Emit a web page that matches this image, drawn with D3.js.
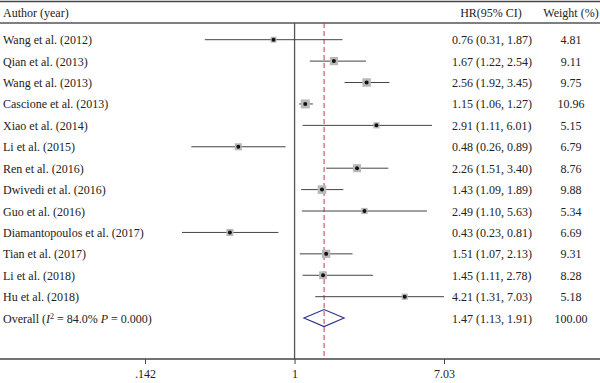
<!DOCTYPE html>
<html><head><meta charset="utf-8">
<script src="https://cdn.jsdelivr.net/npm/d3@7"></script>
<style>body{margin:0;background:#fff}svg{display:block}text{font-family:"Liberation Serif","Times New Roman",serif;fill:#222}</style>
</head><body><svg id="c" width="600" height="383"></svg>
<script>
const studies = ["Wang et al. (2012)","Qian et al. (2013)","Wang et al. (2013)","Cascione et al. (2013)","Xiao et al. (2014)","Li et al. (2015)","Ren et al. (2016)","Dwivedi et al. (2016)","Guo et al. (2016)","Diamantopoulos et al. (2017)","Tian et al. (2017)","Li et al. (2018)","Hu et al. (2018)"];
const hr = [0.76,1.67,2.56,1.15,2.91,0.48,2.26,1.43,2.49,0.43,1.51,1.45,4.21];
const lower = [0.31,1.22,1.92,1.06,1.11,0.26,1.51,1.09,1.10,0.23,1.07,1.11,1.31];
const upper = [1.87,2.54,3.45,1.27,6.01,0.89,3.40,1.89,5.63,0.81,2.13,2.78,7.03];
const weights = [4.81,9.11,9.75,10.96,5.15,6.79,8.76,9.88,5.34,6.69,9.31,8.28,5.18];
const overall = {hr:1.47, lower:1.13, upper:1.91, weight:100.00};
const tickValues = [0.142, 1, 7.03];
const tickLabels = [".142","1","7.03"];

const svg = d3.select("#c");
const x = d3.scaleLog().domain([0.142, 7.03]).range([145, 444]);
const y = d3.scaleLinear().domain([0, 13]).range([39.7, 318.1]);
const size = d3.scaleSqrt().domain([0, 10.96]).range([0, 9]);
const fmt = d3.format(".2f");
const rows = studies.map((s,i)=>({s, hr:hr[i], lo:lower[i], hi:upper[i], w:weights[i], i}));

// rules
svg.append("line").attr("x1",0).attr("x2",600).attr("y1",1.5).attr("y2",1.5).attr("stroke","#444").attr("stroke-width",1.5);
svg.append("line").attr("x1",0).attr("x2",600).attr("y1",23).attr("y2",23).attr("stroke","#555").attr("stroke-width",1.5);

// headers
svg.append("text").attr("x",3).attr("y",17).attr("font-size",12).text("Author (year)");
svg.append("text").attr("x",491).attr("y",17).attr("font-size",12).attr("text-anchor","middle").text("HR(95% CI)");
svg.append("text").attr("x",571).attr("y",17).attr("font-size",12).attr("text-anchor","middle").text("Weight (%)");

// null line
svg.append("line").attr("x1",x(1)).attr("x2",x(1)).attr("y1",23).attr("y2",359).attr("stroke","#555").attr("stroke-width",1.3);
// overall dashed line
svg.append("line").attr("x1",x(overall.hr)).attr("x2",x(overall.hr)).attr("y1",23).attr("y2",359)
  .attr("stroke","#c8324a").attr("stroke-width",1).attr("stroke-dasharray","5,3");

// axis
const ax = svg.append("g").attr("transform","translate(0,359)")
  .call(d3.axisBottom(x).tickValues(tickValues).tickFormat((d,i)=>tickLabels[i]).tickSize(5).tickPadding(5));
ax.select(".domain").remove();
ax.selectAll(".tick line").attr("stroke","#444");
ax.selectAll("text").attr("font-size",12).attr("font-family","Liberation Serif").attr("fill","#222");
svg.append("line").attr("x1",0).attr("x2",600).attr("y1",359).attr("y2",359).attr("stroke","#444").attr("stroke-width",1.3);

// study rows
const g = svg.selectAll("g.row").data(rows).join("g").attr("class","row");
g.append("text").attr("x",3).attr("y",d=>y(d.i)+4.5).attr("font-size",12).text(d=>d.s);
g.append("line").attr("x1",d=>x(d.lo)).attr("x2",d=>x(d.hi)).attr("y1",d=>y(d.i)).attr("y2",d=>y(d.i)).attr("stroke","#444").attr("stroke-width",1);
g.append("rect").attr("x",d=>x(d.hr)-size(d.w)/2).attr("y",d=>y(d.i)-size(d.w)/2)
  .attr("width",d=>size(d.w)).attr("height",d=>size(d.w)).attr("fill","#b8b8b8");
g.append("circle").attr("cx",d=>x(d.hr)).attr("cy",d=>y(d.i)).attr("r",2).attr("fill","#111");
g.append("text").attr("x",452).attr("y",d=>y(d.i)+4.5).attr("font-size",12)
  .text(d=>`${fmt(d.hr)} (${fmt(d.lo)}, ${fmt(d.hi)})`);
g.append("text").attr("x",571).attr("y",d=>y(d.i)+4.5).attr("font-size",12).attr("text-anchor","middle").text(d=>fmt(d.w));

// overall row
const oy = y(13);
const ot = svg.append("text").attr("x",3).attr("y",oy+4.5).attr("font-size",12);
ot.append("tspan").text("Overall (");
ot.append("tspan").attr("font-style","italic").text("I");
ot.append("tspan").attr("font-size",8).attr("dy",-4).text("2");
ot.append("tspan").attr("dy",4).text(" = 84.0% ");
ot.append("tspan").attr("font-style","italic").text("P");
ot.append("tspan").text(" = 0.000)");
const dh = 8.5;
svg.append("path").attr("d",`M${x(overall.lower)},${oy}L${x(overall.hr)},${oy-dh}L${x(overall.upper)},${oy}L${x(overall.hr)},${oy+dh}Z`)
  .attr("fill","none").attr("stroke","#2b2b8c").attr("stroke-width",1.1);
svg.append("text").attr("x",452).attr("y",oy+4.5).attr("font-size",12)
  .text(`${fmt(overall.hr)} (${fmt(overall.lower)}, ${fmt(overall.upper)})`);
svg.append("text").attr("x",571).attr("y",oy+4.5).attr("font-size",12).attr("text-anchor","middle").text(fmt(overall.weight));
</script></body></html>
